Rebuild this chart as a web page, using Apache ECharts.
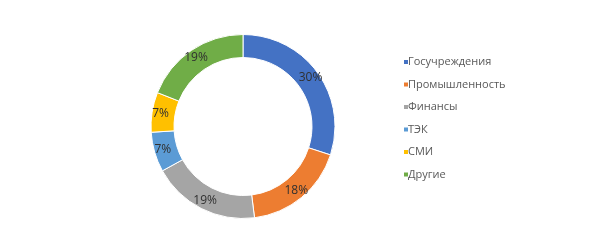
<!DOCTYPE html>
<html><head><meta charset="utf-8">
<script src="https://cdn.jsdelivr.net/npm/echarts@6/dist/echarts.min.js"></script>
<style>html,body{margin:0;padding:0;background:#fff}#c{width:592px;height:241px}</style>
</head><body><div id="c"></div>
<script>
const categories = ['Госучреждения','Промышленность','Финансы','ТЭК','СМИ','Другие'];
const values = [30, 18, 19, 7, 7, 19];
const colors = ['#4472C4','#ED7D31','#A5A5A5','#5B9BD5','#FFC000','#70AD47'];

const chart = echarts.init(document.getElementById('c'), null, {renderer:'canvas'});
chart.setOption({
  animation:false,
  color: colors,
  legend: {
    orient:'vertical', left:402, top:56, padding:0,
    icon:'rect', itemWidth:6, itemHeight:6, itemGap:10.5,
    selectedMode:false,
    textStyle:{fontFamily:'Open Sans', fontSize:11, color:'#595959', lineHeight:12, padding:[0,0,0,-6]},
    data: categories
  },
  series:[{
    type:'pie', center:[243,126.5], radius:[69,92],
    startAngle:90, clockwise:true,
    itemStyle:{borderColor:'#fff', borderWidth:1},
    label:{show:true, position:'inside', formatter:'{d}%', fontFamily:'Open Sans', fontSize:12, color:'#303030'},
    labelLine:{show:false},
    emphasis:{disabled:true},
    data: categories.map((n,i)=>({name:n, value:values[i]}))
  }]
});
</script></body></html>
